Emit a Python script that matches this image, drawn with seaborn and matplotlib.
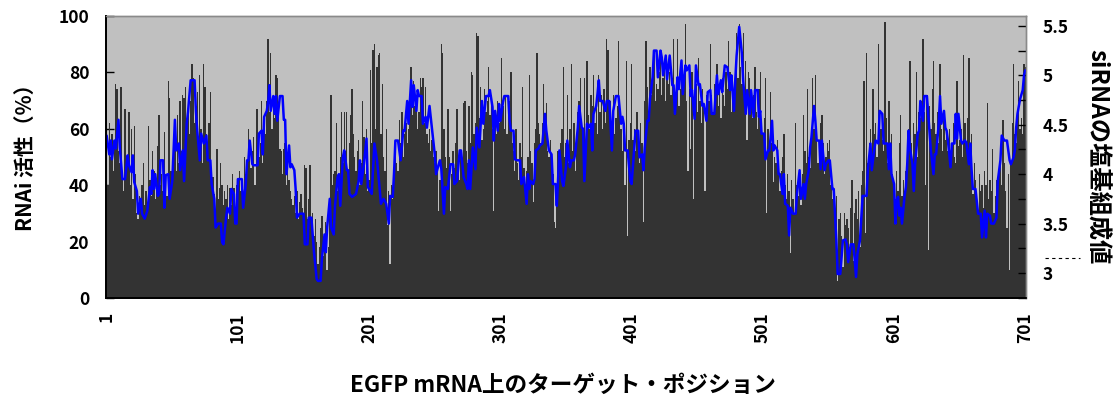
import numpy as np
import pandas as pd
import matplotlib
matplotlib.use("Agg")
import matplotlib.pyplot as plt
import seaborn as sns
from matplotlib.ticker import FixedLocator, MultipleLocator
from matplotlib.lines import Line2D

# ---------------- data ----------------
positions = list(range(1, 702))

activity = [
    78, 40, 62, 50, 58, 45, 55, 76, 74, 52,
    48, 75, 42, 38, 67, 45, 50, 66, 40, 60,
    35, 61, 44, 30, 28, 36, 32, 40, 48, 33,
    38, 30, 61, 42, 36, 52, 45, 35, 41, 54,
    65, 40, 44, 38, 59, 43, 36, 77, 71, 45,
    42, 50, 55, 45, 65, 48, 70, 52, 72, 71,
    75, 60, 66, 58, 70, 83, 78, 62, 68, 73,
    55, 79, 60, 48, 83, 75, 58, 52, 62, 73,
    42, 43, 37, 30, 53, 35, 39, 48, 40, 33,
    38, 35, 40, 28, 39, 33, 44, 39, 30, 40,
    40, 45, 38, 42, 35, 50, 44, 48, 60, 55,
    46, 52, 57, 40, 67, 67, 50, 55, 70, 48,
    62, 58, 70, 92, 66, 87, 60, 72, 64, 79,
    78, 66, 53, 52, 44, 53, 55, 40, 47, 42,
    38, 35, 33, 36, 30, 38, 28, 34, 37, 32,
    30, 47, 46, 28, 35, 47, 25, 30, 22, 28,
    20, 12, 18, 25, 29, 15, 22, 27, 10, 18,
    30, 72, 40, 44, 45, 62, 38, 42, 50, 66,
    48, 66, 52, 66, 45, 55, 65, 74, 58, 50,
    45, 52, 56, 40, 48, 70, 57, 44, 60, 38,
    42, 81, 55, 88, 90, 60, 82, 86, 87, 58,
    76, 50, 45, 60, 26, 38, 12, 40, 35, 44,
    52, 48, 45, 63, 55, 66, 50, 58, 62, 55,
    60, 70, 82, 65, 77, 68, 72, 60, 66, 78,
    75, 78, 62, 75, 58, 55, 60, 52, 56, 50,
    48, 52, 45, 31, 42, 90, 87, 60, 50, 46,
    67, 50, 31, 44, 52, 46, 55, 67, 48, 42,
    50, 45, 69, 70, 52, 48, 68, 55, 80, 79,
    58, 62, 94, 93, 64, 75, 56, 60, 74, 66,
    70, 82, 65, 72, 60, 31, 66, 58, 70, 62,
    64, 85, 68, 60, 72, 58, 66, 70, 80, 55,
    52, 45, 60, 48, 42, 55, 50, 75, 46, 40,
    45, 50, 79, 52, 48, 34, 55, 60, 87, 62,
    58, 55, 62, 76, 60, 69, 52, 50, 56, 48,
    44, 27, 25, 40, 52, 48, 55, 60, 82, 50,
    55, 72, 48, 60, 83, 52, 62, 45, 58, 66,
    70, 78, 62, 58, 78, 55, 84, 65, 60, 72,
    68, 79, 62, 70, 58, 79, 66, 72, 60, 74,
    62, 92, 88, 65, 70, 60, 72, 58, 64, 68,
    91, 66, 60, 52, 58, 40, 84, 22, 56, 62,
    83, 56, 60, 52, 66, 58, 48, 62, 55, 27,
    70, 91, 75, 66, 82, 72, 78, 86, 70, 76,
    74, 80, 86, 72, 78, 84, 70, 82, 76, 80,
    72, 78, 92, 70, 76, 92, 68, 74, 80, 72,
    78, 97, 70, 45, 74, 53, 80, 35, 68, 76,
    66, 85, 70, 62, 74, 68, 38, 72, 65, 70,
    90, 72, 66, 76, 70, 83, 68, 74, 64, 78,
    72, 68, 80, 74, 91, 80, 66, 76, 70, 78,
    94, 78, 97, 82, 76, 94, 72, 84, 56, 80,
    78, 70, 64, 72, 82, 66, 60, 74, 80, 62,
    58, 64, 78, 30, 60, 52, 73, 55, 41, 50,
    48, 56, 44, 38, 45, 50, 58, 40, 35, 44,
    38, 16, 42, 35, 30, 62, 40, 36, 45, 33,
    44, 65, 52, 48, 74, 50, 46, 55, 78, 60,
    79, 58, 48, 52, 62, 65, 55, 44, 50, 55,
    52, 56, 40, 35, 38, 30, 36, 6, 28, 30,
    22, 11, 30, 26, 28, 25, 18, 32, 42, 13,
    30, 35, 28, 38, 18, 40, 45, 77, 23, 87,
    48, 55, 60, 52, 74, 58, 62, 50, 90, 66,
    60, 56, 52, 98, 64, 48, 70, 55, 58, 44,
    40, 34, 45, 38, 55, 65, 36, 42, 35, 45,
    52, 60, 84, 55, 48, 62, 58, 80, 50, 66,
    64, 70, 92, 66, 40, 72, 17, 68, 60, 74,
    84, 62, 58, 66, 55, 83, 60, 52, 64, 56,
    58, 52, 60, 46, 55, 62, 50, 48, 77, 54,
    56, 60, 50, 86, 62, 55, 64, 85, 52, 58,
    37, 48, 42, 35, 30, 44, 38, 40, 32, 45,
    40, 69, 35, 42, 38, 53, 30, 36, 42, 34,
    45, 50, 40, 63, 48, 38, 25, 44, 10, 48,
    62, 83, 58, 55, 66, 77, 60, 64, 58, 83,
    82,
]

line_pos = [
    1, 3, 4, 5, 7, 8, 10, 11, 13, 15, 17, 18, 20, 21, 22, 24, 25, 27, 28, 30,
    32, 34, 35, 36, 37, 38, 40, 41, 42, 44, 45, 46, 48, 49, 51, 53, 54, 56, 57, 59,
    60, 62, 63, 65, 68, 69, 70, 72, 73, 75, 77, 78, 80, 81, 83, 84, 86, 88, 89, 90,
    92, 93, 95, 96, 98, 99,
    100, 101, 104, 105, 107, 108, 109, 110, 112, 113, 116, 117, 119, 120, 121, 123, 124, 125, 126, 128,
    129, 130, 131, 133, 135, 136, 137, 138, 140, 141, 142, 144, 145, 146, 148, 151, 152, 154, 155, 157,
    159, 161, 162, 164, 165, 167, 168, 169, 171, 172, 174, 175, 177, 178, 179, 181, 182, 184, 185, 186,
    188, 189, 191, 193, 194, 195, 197,
    199, 200, 203, 205, 207, 208, 210, 212, 214, 216, 217, 219, 220, 221, 223, 225, 227, 228, 230, 231,
    233, 234, 235, 237, 238, 239, 241, 242, 244, 245, 247, 249, 251, 252, 254, 255, 256, 258, 259, 261,
    263, 265, 266, 268, 270, 271, 273, 275, 276, 277, 278, 280, 282, 283, 285, 287, 288, 290, 292, 293,
    295,
    296, 297, 299, 300, 301, 303, 304, 307, 308, 309, 311, 312, 314, 316, 317, 319, 321, 322, 323, 324,
    326, 327, 328, 330, 331, 333, 335, 336, 338, 340, 341, 343, 344, 346, 348, 349, 351, 352, 354, 355,
    357, 358, 360, 361, 363, 364, 365, 367, 368, 370, 371, 372, 374, 375, 376, 377, 379, 381, 382, 384,
    386, 387, 389, 391, 393, 394,
    395, 396, 398, 400, 401, 403, 404, 406, 407, 409, 410, 411, 413, 414, 415, 417, 418, 420, 421, 423,
    424, 425, 427, 428, 430, 432, 433, 434, 436, 437, 439, 440, 442, 443, 445, 446, 447, 449, 450, 452,
    453, 455, 456, 458, 459, 461, 462, 464, 466, 467, 469, 470, 472, 474, 476, 477, 479, 480, 481, 483,
    485, 486, 488, 489, 491, 492,
    494, 495, 497, 498, 499, 500, 502, 503, 505, 506, 508, 509, 510, 512, 513, 514, 516, 517, 518, 520,
    521, 522, 524, 526, 527, 529, 530, 532, 533, 534, 536, 537, 538, 540, 541, 542, 544, 545, 546, 548,
    549, 551, 552, 554, 555, 557, 558, 560, 562, 564, 565, 566, 568, 570, 572, 573, 575, 576, 577, 580,
    581, 583, 584, 586, 587, 589, 590, 592,
    593, 596, 597, 598, 599, 601, 602, 603, 604, 605, 606, 607, 609, 610, 611, 612, 613, 615, 616, 617,
    619, 620, 621, 623, 624, 626, 627, 629, 631, 632, 633, 635, 636, 637, 639, 640, 641, 642, 644, 645,
    647, 648, 649, 650, 652, 653, 655, 656, 658, 659, 660, 661, 663, 665, 667, 668, 670, 671, 672, 674,
    675, 677, 679, 680, 682, 683, 685, 687, 689, 690, 692, 693, 694, 695, 697, 699, 700, 701,
]

line_val = [
    4.39, 4.20, 4.34, 4.15, 4.34, 4.26, 4.55, 4.27, 3.95, 3.95, 4.19, 4.09, 4.02, 4.19, 3.92, 3.83, 3.60, 3.75, 3.60, 3.55,
    3.63, 3.87, 3.80, 4.04, 3.85, 4.00, 3.78, 3.80, 4.14, 4.14, 3.66, 3.99, 4.00, 3.75, 3.93, 4.55, 4.24, 4.31, 4.04, 4.24,
    3.93, 4.51, 4.63, 4.95, 4.95, 4.64, 4.44, 4.14, 4.41, 4.31, 4.39, 4.14, 4.14, 3.90, 3.75, 3.46, 3.50, 3.50, 3.31, 3.29,
    3.56, 3.66, 3.60, 3.85, 3.80, 3.50,
    3.50, 3.95, 3.95, 3.66, 3.90, 4.14, 4.14, 4.34, 4.10, 4.09, 4.09, 4.41, 4.44, 4.20, 4.58, 4.64, 4.73, 4.90, 4.64, 4.79,
    4.61, 4.79, 4.54, 4.79, 4.79, 4.55, 4.55, 4.00, 4.29, 4.07, 4.10, 4.04, 3.85, 3.56, 3.60, 3.60, 3.29, 3.29, 3.56, 3.56,
    3.21, 2.94, 2.92, 2.92, 3.14, 3.39, 3.21, 3.46, 3.75, 3.46, 3.39, 3.68, 3.97, 4.00, 3.68, 4.17, 4.24, 4.04, 4.04, 3.80,
    3.77, 3.78, 3.80, 3.93, 4.14, 3.90, 4.10,
    4.36, 3.87, 3.80, 4.31, 4.14, 4.00, 3.70, 3.75, 3.70, 3.50, 3.78, 3.77, 4.02, 4.34, 4.34, 4.14, 4.44, 4.44, 4.74, 4.51,
    4.95, 4.68, 4.90, 4.64, 4.85, 4.79, 4.79, 4.51, 4.58, 4.47, 4.69, 4.44, 4.20, 4.00, 4.10, 4.14, 4.05, 3.60, 3.87, 3.85,
    4.10, 4.10, 3.90, 3.93, 4.24, 4.24, 3.97, 3.90, 3.85, 4.14, 3.85, 4.27, 4.05, 4.47, 4.27, 4.74, 4.51, 4.79, 4.79, 4.85,
    4.68,
    4.34, 4.64, 4.44, 4.71, 4.54, 4.73, 4.79, 4.79, 4.54, 4.44, 4.44, 4.15, 4.14, 4.14, 3.90, 3.97, 3.70, 4.00, 3.85, 3.93,
    3.90, 3.95, 4.24, 4.26, 4.29, 4.31, 4.61, 4.44, 4.24, 4.20, 3.90, 3.90, 3.68, 4.24, 3.93, 3.88, 4.07, 4.34, 4.07, 4.14,
    4.14, 4.20, 4.47, 4.69, 4.47, 4.46, 3.93, 4.51, 4.47, 4.51, 4.24, 4.61, 4.69, 4.81, 4.95, 4.74, 4.74, 4.64, 4.74, 4.74,
    4.24, 4.64, 4.79, 4.79, 4.51, 4.58,
    4.51, 4.24, 4.24, 3.93, 3.90, 4.27, 4.44, 4.44, 4.17, 4.20, 4.04, 4.27, 4.54, 4.54, 4.76, 4.98, 5.25, 5.25, 4.98, 5.25,
    5.18, 5.00, 5.20, 4.96, 5.20, 4.90, 4.90, 4.61, 4.98, 4.86, 5.15, 4.81, 5.10, 5.05, 5.10, 4.79, 4.85, 4.56, 5.10, 4.90,
    4.91, 4.69, 4.71, 4.54, 4.83, 4.85, 4.61, 4.61, 5.00, 4.81, 4.95, 4.83, 5.10, 5.08, 4.85, 5.00, 4.64, 4.96, 5.20, 5.49,
    5.22, 4.95, 4.61, 4.85, 4.61, 4.85,
    4.58, 4.85, 4.85, 4.58, 4.64, 4.41, 4.41, 4.15, 4.24, 4.24, 4.54, 4.24, 4.29, 4.24, 4.00, 4.00, 3.80, 4.00, 3.70, 3.68,
    3.38, 3.66, 3.60, 3.60, 3.80, 4.04, 3.75, 3.90, 3.75, 3.90, 4.04, 4.27, 4.37, 4.69, 4.54, 4.34, 4.34, 4.05, 4.34, 4.04,
    4.10, 4.14, 4.14, 3.85, 3.85, 3.33, 2.99, 2.99, 3.33, 3.34, 3.29, 3.11, 3.29, 3.29, 2.96, 3.19, 3.33, 3.56, 3.78, 3.78,
    4.04, 4.31, 4.04, 4.26, 4.34, 4.31, 4.64, 4.61,
    4.31, 4.31, 4.05, 4.31, 4.00, 3.90, 3.50, 3.73, 3.77, 3.58, 3.66, 3.50, 3.78, 3.87, 4.10, 4.44, 4.27, 4.10, 3.83, 4.10,
    4.41, 4.44, 4.74, 4.54, 4.79, 4.79, 4.61, 4.24, 4.00, 4.20, 4.20, 4.51, 4.79, 4.51, 4.64, 4.47, 4.44, 4.34, 4.07, 4.31,
    4.31, 4.61, 4.36, 4.61, 4.34, 4.31, 4.34, 4.32, 4.10, 4.31, 4.05, 3.85, 3.85, 3.60, 3.60, 3.36, 3.63, 3.36, 3.60, 3.58,
    3.50, 3.50, 3.56, 3.93, 4.14, 4.39, 4.34, 4.34, 4.14, 4.10, 4.17, 4.24, 4.47, 4.61, 4.76, 4.85, 5.00, 5.05,
]

x_ticks = [1, 101, 201, 301, 401, 501, 601, 701]
x_tick_labels = ["1", "101", "201", "301", "401", "501", "601", "701"]
y_ticks_left = [0, 20, 40, 60, 80, 100]
y_ticks_right = [3, 3.5, 4, 4.5, 5, 5.5]
y_tick_labels_right = ["3", "3.5", "4", "4.5", "5", "5.5"]

xlabel_text = "EGFP mRNA上のターゲット・ポジション"
ylabel_left = "RNAi 活性（%）"
ylabel_right = "siRNAの塩基組成値"

n = min(len(positions), len(activity))
pos_arr = positions[:n]
act_arr = activity[:n]
m = min(len(line_pos), len(line_val))

# ---------------- style ----------------
sns.set_theme(style="white")
plt.rcParams["font.family"] = ["Noto Sans CJK JP", "DejaVu Sans"]
plt.rcParams["font.weight"] = "bold"

W, H = 1115, 397
fig = plt.figure(figsize=(W / 100, H / 100), dpi=100)
fig.patch.set_facecolor("white")

L, R, T, B = 106, 1026, 16, 298
ax = fig.add_axes([L / W, 1 - B / H, (R - L) / W, (B - T) / H])
ax.set_facecolor("#c0c0c0")

df = pd.DataFrame({"pos": pos_arr, "act": act_arr})
sns.barplot(data=df, x="pos", y="act", native_scale=True, color="#333333",
            saturation=1, width=1.0, errorbar=None, edgecolor="none",
            linewidth=0, ax=ax)

ax.set_xlim(0.5, 701.5)
ax.set_ylim(0, 100)
ax.set_xlabel("")
ax.set_ylabel("")

ax2 = ax.twinx()
ldf = pd.DataFrame({"pos": line_pos[:m], "val": line_val[:m]})
sns.lineplot(data=ldf, x="pos", y="val", ax=ax2, color="#0000ff",
             linewidth=1.8, estimator=None, sort=True)
ax2.set_ylim(2.747, 5.6)
ax2.set_xlim(0.5, 701.5)
ax2.set_xlabel("")
ax2.set_ylabel("")

# ticks
tick_font = dict(fontsize=12.5, fontweight="bold", color="black")
ax.xaxis.set_major_locator(FixedLocator(x_ticks))
ax.xaxis.set_minor_locator(FixedLocator([p for p in range(11, 701, 10) if p not in x_ticks]))
ax.set_xticklabels(x_tick_labels, rotation=90, **tick_font)
ax.yaxis.set_major_locator(FixedLocator(y_ticks_left))
ax.set_yticklabels([str(v) for v in y_ticks_left], **tick_font)
ax.tick_params(axis="x", which="both", direction="in", length=6, width=1,
               color="black", pad=10, bottom=True, top=False)
ax.tick_params(axis="y", which="both", direction="in", length=6, width=1,
               color="black", pad=12, left=True, right=False)

ax2.yaxis.set_major_locator(FixedLocator(y_ticks_right))
ax2.yaxis.set_minor_locator(MultipleLocator(0.25))
ax2.set_yticklabels(y_tick_labels_right, **tick_font)
ax2.tick_params(axis="y", which="both", direction="in", length=6, width=1,
                color="black", pad=12, right=True, left=False)

for a in (ax, ax2):
    a.grid(False)
    for s in ("top", "right"):
        a.spines[s].set_color("#8a8a8a")
        a.spines[s].set_linewidth(1.0)
    for s in ("left", "bottom"):
        a.spines[s].set_color("black")
        a.spines[s].set_linewidth(1.3)

# axis titles
fig.text(25 / W, 1 - 152 / H, ylabel_left, rotation=90, ha="center", va="center",
         fontsize=15, fontweight="bold", color="black")
fig.text(1097 / W, 1 - 157 / H, ylabel_right, rotation=-90, ha="center", va="center",
         fontsize=17.5, fontweight="bold", color="black")
fig.text(563 / W, 1 - 385 / H, xlabel_text, ha="center", va="center",
         fontsize=16.3, fontweight="bold", color="black")

# small dashed mark beside right axis
fig.add_artist(Line2D([1045 / W, 1080 / W], [1 - 258 / H, 1 - 258 / H],
                      transform=fig.transFigure, color="black", linewidth=0.8,
                      linestyle=(0, (3, 3))))

fig.savefig("out.png", dpi=100, facecolor="white")
